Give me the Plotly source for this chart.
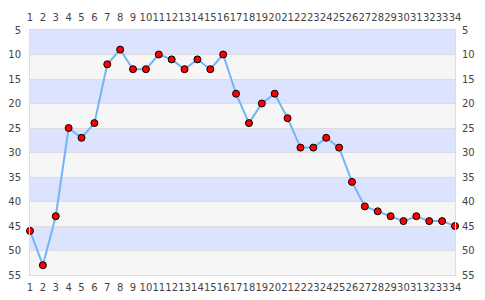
import plotly.graph_objects as go

rounds = list(range(1, 35))
positions = [46, 53, 43, 25, 27, 24, 12, 9, 13, 13, 10, 11, 13, 11, 13, 10, 18, 24, 20, 18,
             23, 29, 29, 27, 29, 36, 41, 42, 43, 44, 43, 44, 44, 45]
y_ticks = [5, 10, 15, 20, 25, 30, 35, 40, 45, 50, 55]
band_colors = ["#dce3fe", "#f6f6f6"]

fig = go.Figure()
fig.add_trace(go.Scatter(
    x=rounds, y=positions, mode="lines+markers",
    line=dict(color="#74b4f4", width=2),
    marker=dict(color="#ff0000", size=7, line=dict(color="#000000", width=1)),
    hoverinfo="skip", showlegend=False, cliponaxis=False,
))
fig.add_trace(go.Scatter(
    x=rounds, y=positions, xaxis="x2", yaxis="y2", mode="markers",
    marker=dict(opacity=0), hoverinfo="skip", showlegend=False,
))

for i in range(len(y_ticks) - 1):
    fig.add_shape(type="rect", xref="paper", yref="y", x0=0, x1=1,
                  y0=y_ticks[i], y1=y_ticks[i + 1],
                  fillcolor=band_colors[i % 2], line=dict(width=0), layer="below")

font = dict(family="DejaVu Sans", size=10, color="#444444")
xcommon = dict(range=[1, 34], tickmode="array", tickvals=rounds, ticktext=[str(r) for r in rounds],
               showgrid=False, zeroline=False, tickfont=font, ticks="", fixedrange=True,
               tickangle=0, automargin=False)
ycommon = dict(range=[55, 5], tickmode="array", tickvals=y_ticks, ticktext=[str(t) for t in y_ticks],
               showgrid=True, gridcolor="#dddddd", gridwidth=1, zeroline=False, tickfont=font,
               ticks="", fixedrange=True, automargin=False)

fig.update_layout(
    width=485, height=300,
    margin=dict(l=30, r=30, t=30, b=25),
    paper_bgcolor="#ffffff", plot_bgcolor="#ffffff",
    xaxis=dict(**xcommon, side="bottom", showline=True, linecolor="#dddddd", mirror=True, ticklabelstandoff=3),
    xaxis2=dict(**xcommon, side="top", overlaying="x", anchor="y", ticklabelstandoff=6),
    yaxis=dict(**ycommon, side="left", showline=True, linecolor="#dddddd", mirror=True, ticklabelstandoff=6),
    yaxis2=dict(**ycommon, side="right", overlaying="y", anchor="x", ticklabelstandoff=6),
)
fig.update_yaxes(showgrid=False, selector=dict(side="right"))

fig.write_html("out.html")
